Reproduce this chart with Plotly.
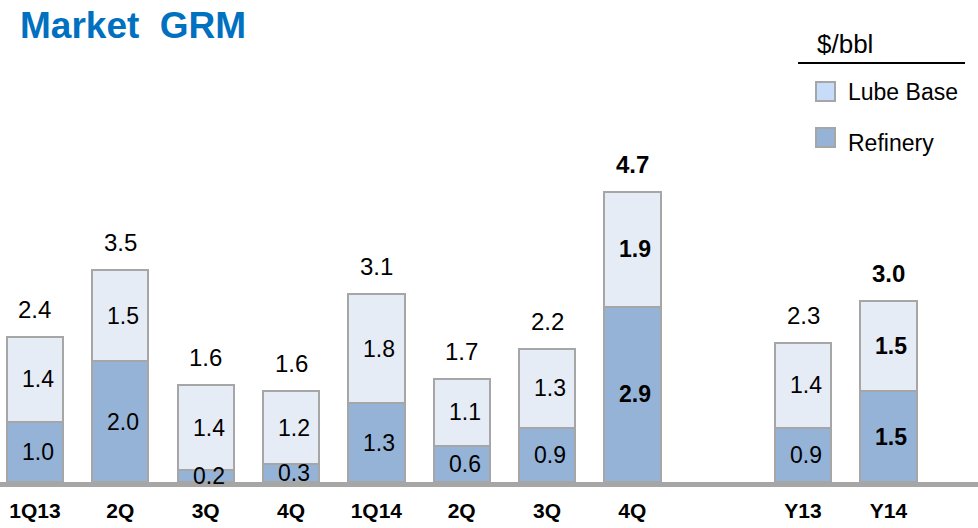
import plotly.graph_objects as go

# ---- data ----
categories = ["1Q13", "2Q", "3Q", "4Q", "1Q14", "2Q", "3Q", "4Q", "Y13", "Y14"]
slots = [0, 1, 2, 3, 4, 5, 6, 7, 9, 10]
refinery = [1.0, 2.0, 0.2, 0.3, 1.3, 0.6, 0.9, 2.9, 0.9, 1.5]
lube_base = [1.4, 1.5, 1.4, 1.2, 1.8, 1.1, 1.3, 1.9, 1.4, 1.5]
totals = [2.4, 3.5, 1.6, 1.6, 3.1, 1.7, 2.2, 4.7, 2.3, 3.0]
bold_flags = [False, False, False, False, False, False, False, True, False, True]

W, H = 978, 528
FONT = "Liberation Sans, Arial, sans-serif"
REF_COLOR = "#95b3d7"
LUBE_COLOR = "#e6ecf5"
EDGE = "#a6a6a6"
B = 32                      # bottom margin
PLOT_H = H - B              # plot area height in px
ZERO_PX = 482               # pixel row of value 0
PX_PER_UNIT = 60.5
Y_MIN = -(PLOT_H - ZERO_PX) / PX_PER_UNIT
Y_MAX = ZERO_PX / PX_PER_UNIT
BASE_W = 5                  # baseline thickness (px)


def fmt(v, b):
    s = f"{v:.1f}"
    return f"<b>{s}</b>" if b else s


fig = go.Figure()
fig.add_trace(go.Bar(
    x=slots, y=refinery, name="Refinery",
    marker=dict(color=REF_COLOR, line=dict(color=EDGE, width=2)),
    width=0.66, showlegend=False, hoverinfo="y+name",
))
fig.add_trace(go.Bar(
    x=slots, y=lube_base, name="Lube Base",
    marker=dict(color=LUBE_COLOR, line=dict(color=EDGE, width=2)),
    width=0.66, showlegend=False, hoverinfo="y+name",
))

annotations = []
for xs, r, l, t, b in zip(slots, refinery, lube_base, totals, bold_flags):
    # segment labels
    annotations.append(dict(
        x=xs, y=r / 2, xref="x", yref="y", text=fmt(r, b), showarrow=False,
        yanchor="middle", xshift=3,
        font=dict(family=FONT, size=23, color="black"),
    ))
    annotations.append(dict(
        x=xs, y=r + l / 2, xref="x", yref="y", text=fmt(l, b), showarrow=False,
        yanchor="middle", xshift=3,
        font=dict(family=FONT, size=23, color="black"),
    ))
    # totals
    annotations.append(dict(
        x=xs, y=r + l, xref="x", yref="y", text=fmt(t, b), showarrow=False,
        yanchor="bottom", yshift=12,
        font=dict(family=FONT, size=24, color="black"),
    ))

# legend (drawn manually to match swatch sizes)
def px(xp):
    return xp / W

def py(yp):
    return (PLOT_H - yp) / PLOT_H

annotations += [
    dict(x=px(815), y=py(44), xref="paper", yref="paper", text="$/bbl",
         showarrow=False, xanchor="left", yanchor="middle",
         font=dict(family=FONT, size=26, color="black")),
    dict(x=px(846), y=py(92), xref="paper", yref="paper", text="Lube Base",
         showarrow=False, xanchor="left", yanchor="middle",
         font=dict(family=FONT, size=23, color="black")),
    dict(x=px(846), y=py(143), xref="paper", yref="paper", text="Refinery",
         showarrow=False, xanchor="left", yanchor="middle",
         font=dict(family=FONT, size=23, color="black")),
]

base_y = -(BASE_W / 2) / PX_PER_UNIT
shapes = [
    dict(type="line", xref="paper", yref="y", x0=0, x1=1, y0=base_y, y1=base_y,
         line=dict(color=EDGE, width=BASE_W), layer="above"),
    dict(type="line", xref="paper", yref="paper", x0=px(798), x1=px(965),
         y0=py(63), y1=py(63), line=dict(color="black", width=2)),
    dict(type="rect", xref="paper", yref="paper", x0=px(816), x1=px(835),
         y0=py(82), y1=py(101), fillcolor="#c6dcf8", line=dict(color=EDGE, width=2)),
    dict(type="rect", xref="paper", yref="paper", x0=px(816), x1=px(835),
         y0=py(128), y1=py(147), fillcolor=REF_COLOR, line=dict(color=EDGE, width=2)),
]

fig.update_layout(
    width=W, height=H, barmode="stack",
    margin=dict(l=0, r=0, t=0, b=B, pad=0),
    paper_bgcolor="white", plot_bgcolor="white",
    title=dict(text="<b>Market  GRM</b>", x=20 / W, xanchor="left",
               y=1 - 25 / H, yanchor="middle", yref="container",
               font=dict(family=FONT, size=37, color="#0070c0")),
    xaxis=dict(range=[-0.41, 11.05], tickvals=slots,
               ticktext=[f"<b>{c}</b>" for c in categories],
               tickfont=dict(family=FONT, size=21, color="black"),
               showgrid=False, zeroline=False, showline=False, ticks="",
               ticklabelstandoff=0, fixedrange=True),
    yaxis=dict(range=[Y_MIN, Y_MAX], visible=False, showgrid=False,
               zeroline=False, fixedrange=True),
    annotations=annotations, shapes=shapes,
    showlegend=False,
)

fig.write_html("out.html")
